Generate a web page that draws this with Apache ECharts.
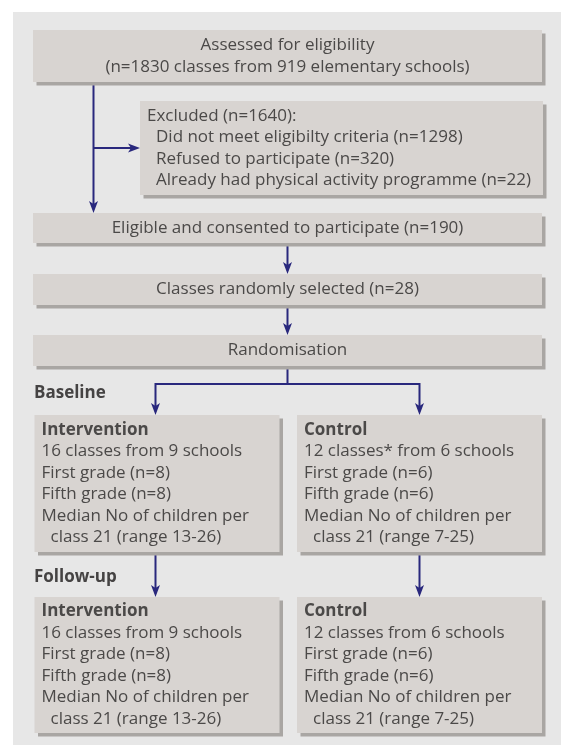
<!DOCTYPE html>
<html>
<head>
<meta charset="utf-8">
<script src="https://cdn.jsdelivr.net/npm/echarts@6/dist/echarts.min.js"></script>
<style>
html,body{margin:0;padding:0;background:#fff;}
#c{width:561px;height:745px;}
</style>
</head>
<body>
<div id="c"></div>
<script>
// ---- Flowchart content (text) ----
const assessedText = ['Assessed for eligibility', '(n=1830 classes from 919 elementary schools)'];
const excludedText = ['Excluded (n=1640):', ' Did not meet eligibilty criteria (n=1298)', ' Refused to participate (n=320)', ' Already had physical activity programme (n=22)'];
const eligibleText = ['Eligible and consented to participate (n=190)'];
const selectedText = ['Classes randomly selected (n=28)'];
const randomText = ['Randomisation'];
const phaseLabels = ['Baseline', 'Follow-up'];
const groupTitles = ['Intervention', 'Control'];
const interventionBaseline = ['16 classes from 9 schools', 'First grade (n=8)', 'Fifth grade (n=8)', 'Median No of children per', ' class 21 (range 13-26)'];
const controlBaseline = ['12 classes* from 6 schools', 'First grade (n=6)', 'Fifth grade (n=6)', 'Median No of children per', ' class 21 (range 7-25)'];
const interventionFollowup = ['16 classes from 9 schools', 'First grade (n=8)', 'Fifth grade (n=8)', 'Median No of children per', ' class 21 (range 13-26)'];
const controlFollowup = ['12 classes from 6 schools', 'First grade (n=6)', 'Fifth grade (n=6)', 'Median No of children per', ' class 21 (range 7-25)'];

// ---- Layout (pixel-space of the hidden axes) ----
const boxLayout = [
  {lines: assessedText, rect: [33, 30, 542, 82], align: 'center'},
  {lines: excludedText, rect: [140, 101, 543, 195], align: 'left'},
  {lines: eligibleText, rect: [33, 213, 542, 243], align: 'center'},
  {lines: selectedText, rect: [33, 274, 542, 305], align: 'center'},
  {lines: randomText, rect: [33, 335, 542, 366], align: 'center'},
  {title: groupTitles[0], lines: interventionBaseline, rect: [34.5, 415, 279.5, 552], align: 'left'},
  {title: groupTitles[1], lines: controlBaseline, rect: [297, 415, 542, 552], align: 'left'},
  {title: groupTitles[0], lines: interventionFollowup, rect: [34.5, 597, 279.5, 733], align: 'left'},
  {title: groupTitles[1], lines: controlFollowup, rect: [297, 597, 542, 733], align: 'left'}
];
const phaseLayout = [[34, 393], [34, 577]];
const connectorLayout = [
  [[93.5, 82], [93.5, 213]],
  [[93.5, 148], [140, 148]],
  [[287.5, 243], [287.5, 274]],
  [[287.5, 305], [287.5, 335]],
  [[287.5, 366], [287.5, 384], [155.5, 384], [155.5, 415]],
  [[287.5, 384], [419.5, 384], [419.5, 415]],
  [[155.5, 552], [155.5, 597]],
  [[419.5, 552], [419.5, 597]]
];

const FONT = '"Open Sans", "Noto Sans", sans-serif';
const FS = 17;
const LH = 21.5;
const TEXT_COLOR = '#4b4948';
const BOX_FILL = '#d8d4d1';
const SHADOW = '#a9a6a3';
const PANEL = '#e7e7e7';
const LINE = '#29287d';

const chart = echarts.init(document.getElementById('c'), null, {renderer: 'canvas'});

function renderPanel(params, api) {
  const p0 = api.coord([13, 12]);
  const p1 = api.coord([561, 745]);
  return {type: 'rect', shape: {x: p0[0], y: p0[1], width: p1[0] - p0[0], height: p1[1] - p0[1]}, style: {fill: PANEL}};
}

function renderBox(params, api) {
  const b = boxLayout[api.value(0)];
  const p0 = api.coord([b.rect[0], b.rect[1]]);
  const p1 = api.coord([b.rect[2], b.rect[3]]);
  const w = p1[0] - p0[0], h = p1[1] - p0[1];
  const children = [
    {type: 'rect', shape: {x: p0[0] + 3.5, y: p0[1] + 3.5, width: w, height: h}, style: {fill: SHADOW}},
    {type: 'rect', shape: {x: p0[0], y: p0[1], width: w, height: h}, style: {fill: BOX_FILL}}
  ];
  const all = (b.title ? [{t: b.title, bold: true}] : []).concat(b.lines.map(t => ({t: t, bold: false})));
  const n = all.length;
  const yMid = (p0[1] + p1[1]) / 2;
  const y0 = yMid - (n - 1) * LH / 2;
  all.forEach((ln, i) => {
    let text = ln.t, x, align;
    if (b.align === 'center') {
      x = (p0[0] + p1[0]) / 2; align = 'center';
    } else {
      const indent = text.startsWith(' ') ? 9 : 0;
      text = text.replace(/^\s+/, '');
      x = p0[0] + 7 + indent; align = 'left';
    }
    children.push({
      type: 'text',
      style: {
        text: text, x: x, y: y0 + i * LH,
        fill: TEXT_COLOR, fontSize: FS, fontFamily: FONT,
        fontWeight: ln.bold ? 'bold' : 'normal',
        align: align, verticalAlign: 'middle'
      }
    });
  });
  return {type: 'group', children: children};
}

function renderConnector(params, api) {
  const pts = connectorLayout[api.value(0)].map(p => api.coord(p));
  const end = pts[pts.length - 1], prev = pts[pts.length - 2];
  const dx = end[0] - prev[0], dy = end[1] - prev[1];
  const len = Math.sqrt(dx * dx + dy * dy);
  const ux = dx / len, uy = dy / len;
  const AL = 12, AW = 4.5;
  const base = [end[0] - ux * AL, end[1] - uy * AL];
  const linePts = pts.slice(0, -1).concat([[end[0] - ux * 4, end[1] - uy * 4]]);
  return {
    type: 'group',
    children: [
      {type: 'polyline', shape: {points: linePts}, style: {stroke: LINE, lineWidth: 2, fill: null}},
      {type: 'polygon', shape: {points: [end, [base[0] - uy * AW, base[1] + ux * AW], [base[0] + ux * 3, base[1] + uy * 3], [base[0] + uy * AW, base[1] - ux * AW]]}, style: {fill: LINE}}
    ]
  };
}

function renderPhase(params, api) {
  const i = api.value(0);
  const p = api.coord(phaseLayout[i]);
  return {type: 'text', style: {text: phaseLabels[i], x: p[0], y: p[1], fill: '#454343', fontSize: FS, fontFamily: FONT, fontWeight: 'bold', align: 'left', verticalAlign: 'middle'}};
}

// Draw connectors without arrow for the junction (index 5 handled as arrow to control)
chart.setOption({
  animation: false,
  grid: {left: 0, right: 0, top: 0, bottom: 0},
  xAxis: {type: 'value', min: 0, max: 561, show: false},
  yAxis: {type: 'value', min: 0, max: 745, inverse: true, show: false},
  series: [
    {type: 'custom', renderItem: renderPanel, data: [[0]], silent: true, clip: false, z: 1},
    {type: 'custom', renderItem: renderConnector, data: connectorLayout.map((c, i) => [i]), silent: true, clip: false, z: 2},
    {type: 'custom', renderItem: renderBox, data: boxLayout.map((b, i) => [i]), silent: true, clip: false, z: 3},
    {type: 'custom', renderItem: renderPhase, data: phaseLabels.map((p, i) => [i]), silent: true, clip: false, z: 4}
  ]
});
</script>
</body>
</html>
